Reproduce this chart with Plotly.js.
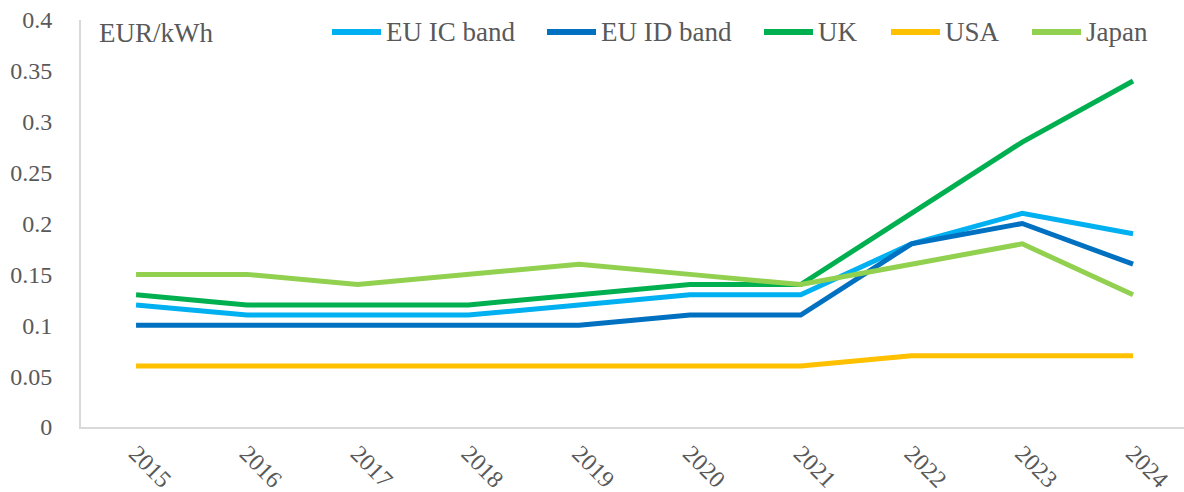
<!DOCTYPE html>
<html>
<head>
<meta charset="utf-8">
<script src="https://cdn.plot.ly/plotly-3.0.1.min.js"></script>
<style>html,body{margin:0;padding:0;background:#fff;}#chart{width:1184px;height:492px;}</style>
</head>
<body>
<div id="chart"></div>
<script>
const years = ['2015','2016','2017','2018','2019','2020','2021','2022','2023','2024'];
const euIC = [0.12,0.11,0.11,0.11,0.12,0.13,0.13,0.18,0.21,0.19];
const euID = [0.10,0.10,0.10,0.10,0.10,0.11,0.11,0.18,0.20,0.16];
const uk = [0.13,0.12,0.12,0.12,0.13,0.14,0.14,0.21,0.28,0.34];
const usa = [0.06,0.06,0.06,0.06,0.06,0.06,0.06,0.07,0.07,0.07];
const japan = [0.15,0.15,0.14,0.15,0.16,0.15,0.14,0.16,0.18,0.13];
const seriesNames = ['EU IC band','EU ID band','UK','USA','Japan'];
const seriesColors = ['#00B0F0','#0070C0','#00B050','#FFC000','#92D050'];
const yTicks = [0,0.05,0.1,0.15,0.2,0.25,0.3,0.35,0.4];
const yTickText = ['0','0.05','0.1','0.15','0.2','0.25','0.3','0.35','0.4'];

const seriesValues = [euIC, euID, uk, usa, japan];
const traces = seriesNames.map((n,i) => ({
  type:'scatter', mode:'lines', x:years, y:seriesValues[i], name:n,
  line:{color:seriesColors[i], width:5, shape:'linear'}
}));

const L = 81, T = 20, W = 1184, H = 492, B = 65;
const PW = W - L, PH = H - T - B;
const px2x = p => (p - L) / PW;
const py2y = p => (H - B - p) / PH;

const fam = 'Liberation Serif';
const grey = '#595959';
const fs = 24;
const fsLeg = 27;

const legendX = [330, 545, 762, 889, 1030];
const legendY = 32;
const symLen = 53;
const shapes = [];
const annotations = [];
seriesNames.forEach((n,i) => {
  shapes.push({type:'line', xref:'paper', yref:'paper',
    x0:px2x(legendX[i]+2), x1:px2x(legendX[i]+symLen-2), y0:py2y(legendY), y1:py2y(legendY),
    line:{color:seriesColors[i], width:6}});
  annotations.push({text:n, xref:'paper', yref:'paper', x:px2x(legendX[i]+symLen+1), y:py2y(legendY),
    xanchor:'left', yanchor:'middle', showarrow:false, font:{family:fam, color:grey, size:fsLeg}});
});
annotations.push({text:'EUR/kWh', xref:'paper', yref:'paper', x:px2x(97), y:py2y(33),
  xanchor:'left', yanchor:'middle', showarrow:false, font:{family:fam, color:grey, size:fsLeg}});

const layout = {
  width:W, height:H,
  margin:{l:L, r:0, t:T, b:B},
  paper_bgcolor:'#fff', plot_bgcolor:'#fff',
  font:{family:fam, color:grey, size:fs},
  showlegend:false,
  xaxis:{type:'category', range:[-0.497,9.46], showgrid:false, zeroline:false,
    showline:true, linecolor:'#d9d9d9', linewidth:2, ticks:'', tickangle:45, ticklabelstandoff:1,
    tickfont:{family:fam, color:grey, size:fs}},
  yaxis:{range:[0,0.4], tickvals:yTicks, ticktext:yTickText, showgrid:false, zeroline:false,
    showline:true, linecolor:'#d9d9d9', linewidth:2, ticks:'', ticklabelstandoff:22,
    tickfont:{family:fam, color:grey, size:fs}},
  shapes:shapes,
  annotations:annotations
};
Plotly.newPlot('chart', traces, layout, {displayModeBar:false, staticPlot:true});
</script>
</body>
</html>
